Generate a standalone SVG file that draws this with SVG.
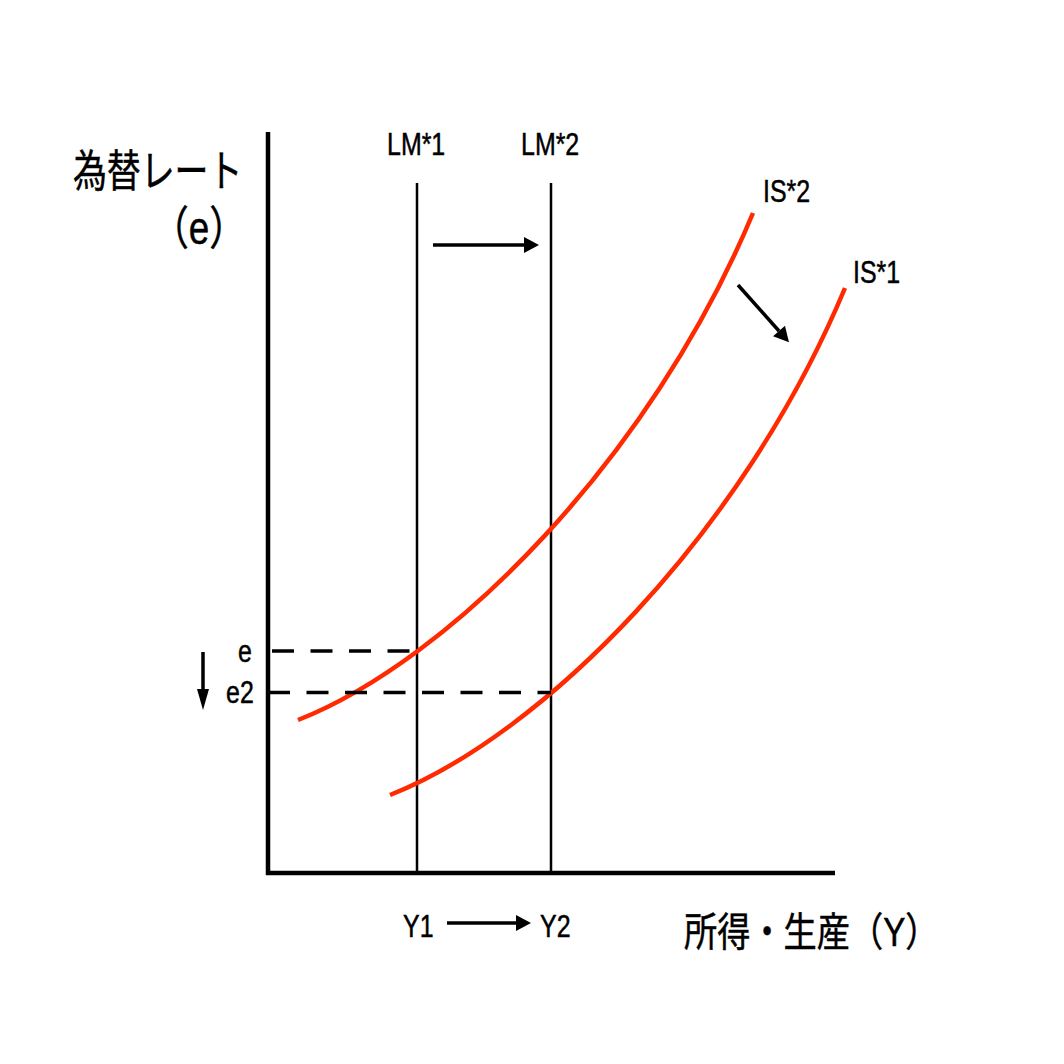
<svg xmlns="http://www.w3.org/2000/svg" width="1064" height="1064" viewBox="0 0 1064 1064">
<style>
.lbl{font-family:"Liberation Sans","Noto Sans CJK JP",sans-serif;fill:#000;stroke:#000;stroke-width:0.5}
.ax{stroke:#000;stroke-width:4.5;fill:none}
.lm{stroke:#000;stroke-width:2.5;fill:none}
.dash{stroke:#000;stroke-width:3.3;stroke-dasharray:22 16.5;fill:none}
.is{stroke:#ff2a00;stroke-width:4.5;fill:none}
.arr{stroke:#000;stroke-width:3.5;fill:none}
</style>
<defs>
<marker id="head" markerUnits="userSpaceOnUse" markerWidth="16" markerHeight="18" refX="0" refY="8" orient="auto" overflow="visible">
<path d="M0,0 L15,8 L0,16 Z" fill="#000"/>
</marker>
<marker id="headThin" markerUnits="userSpaceOnUse" markerWidth="22" markerHeight="12" refX="0" refY="6" orient="auto" overflow="visible">
<path d="M0,0 L21,6 L0,12 Z" fill="#000"/>
</marker>
</defs>
<rect width="1064" height="1064" fill="#fff"/>
<g id="axes">
<line class="ax" x1="268" y1="132" x2="268" y2="875"/>
<line class="ax" x1="266" y1="873" x2="835" y2="873"/>
</g>
<g id="lm1"><line class="lm" x1="417" y1="183" x2="417" y2="873"/>
<g transform="translate(387,155) scale(0.78,1)"><text class="lbl" font-size="32">LM*1</text></g></g>
<g id="lm2"><line class="lm" x1="551" y1="183" x2="551" y2="873"/>
<g transform="translate(521,155) scale(0.78,1)"><text class="lbl" font-size="32">LM*2</text></g></g>
<g id="is2"><path class="is" d="M298,720 C450,660 650,460 753,213"/>
<g transform="translate(763,202) scale(0.78,1)"><text class="lbl" font-size="32">IS*2</text></g></g>
<g id="is1"><path class="is" d="M390,795 C542,735 742,535 845,288"/>
<g transform="translate(853,283) scale(0.78,1)"><text class="lbl" font-size="32">IS*1</text></g></g>
<g id="ylabel">
<g transform="translate(73,187) scale(0.77,1)"><text class="lbl" font-size="44">為替レート</text></g>
<g transform="translate(152,244) scale(0.8,1)"><text class="lbl" font-size="46">（e）</text></g>
</g>
<g id="xlabel">
<g transform="translate(684,946) scale(0.83,1)"><text class="lbl" font-size="40">所得・生産（Y）</text></g>
</g>
<g id="elabels">
<g transform="translate(238,662) scale(0.78,1)"><text class="lbl" font-size="32">e</text></g>
<g transform="translate(226,703) scale(0.78,1)"><text class="lbl" font-size="32">e2</text></g>
</g>
<g id="ylabels">
<g transform="translate(403,937) scale(0.78,1)"><text class="lbl" font-size="32">Y1</text></g>
<g transform="translate(540,937) scale(0.78,1)"><text class="lbl" font-size="32">Y2</text></g>
</g>
<g id="connectors">
<line class="dash" x1="272" y1="651" x2="417" y2="651"/>
<line class="dash" x1="268" y1="692.5" x2="551" y2="692.5"/>
<line class="arr" x1="433" y1="245" x2="524" y2="245" marker-end="url(#head)"/>
<line class="arr" x1="447" y1="923" x2="516" y2="923" stroke-width="3" marker-end="url(#head)"/>
<line class="arr" x1="203" y1="652" x2="203" y2="689" stroke-width="2.5" marker-end="url(#headThin)"/>
<line class="arr" x1="738" y1="285" x2="779" y2="331" stroke-width="3" marker-end="url(#head)"/>
</g>
</svg>
